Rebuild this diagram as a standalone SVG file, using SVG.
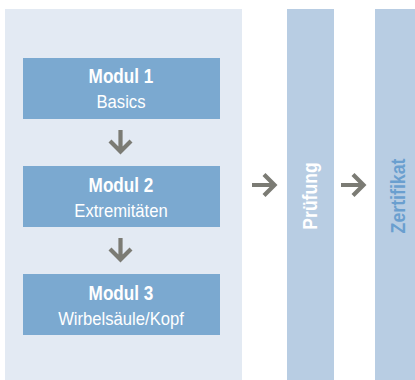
<svg xmlns="http://www.w3.org/2000/svg" width="415" height="380" viewBox="0 0 415 380">
<style>
.mod{fill:#7ba9d0}
.col{fill:#b8cde3}
.t{font-family:"Liberation Sans",Arial,sans-serif;text-anchor:middle;fill:#ffffff}
.b{font-weight:bold;font-size:19.5px}
.r{font-size:18.5px}
.arr{fill:none;stroke:#7b7b74;stroke-width:4.2}
</style>
<rect x="5" y="9" width="237" height="371" fill="#e3eaf3"/>
<g id="modul1"><rect class="mod" x="23" y="58" width="197" height="61"/><text class="t b" transform="translate(121,83.3) scale(0.88,1)">Modul 1</text><text class="t r" transform="translate(121,108.3) scale(0.9,1)">Basics</text></g>
<g id="modul2"><rect class="mod" x="23" y="166" width="197" height="61"/><text class="t b" transform="translate(121,191.5) scale(0.88,1)">Modul 2</text><text class="t r" transform="translate(121,216.5) scale(0.9,1)">Extremitäten</text></g>
<g id="modul3"><rect class="mod" x="23" y="274" width="197" height="61"/><text class="t b" transform="translate(121,299.5) scale(0.88,1)">Modul 3</text><text class="t r" transform="translate(121,324.5) scale(0.9,1)">Wirbelsäule/Kopf</text></g>
<g id="pruefung"><rect class="col" x="287" y="9" width="47" height="371"/><text class="t b" transform="translate(317,196) rotate(-90) scale(0.9,1)">Prüfung</text></g>
<g id="zertifikat"><rect class="col" x="375" y="9" width="40" height="371"/><text class="t b" style="fill:#6a9fcf" transform="translate(405,196) rotate(-90) scale(0.91,1)">Zertifikat</text></g>
<g id="connectors">
<path class="arr" d="M120.5 130V151M110 141L120.5 151.5L131 141"/>
<path class="arr" d="M120.5 238V259M110 249L120.5 259.5L131 249"/>
<path class="arr" d="M252 185H274M264 174.5L274.5 185L264 195.5"/>
<path class="arr" d="M341 185H363M353 174.5L363.5 185L353 195.5"/>
</g>
</svg>
